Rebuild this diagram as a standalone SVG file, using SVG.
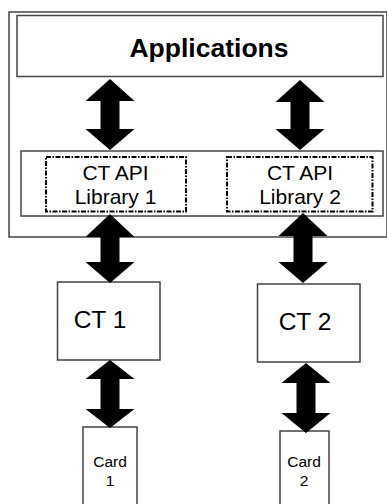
<svg xmlns="http://www.w3.org/2000/svg" width="387" height="504" viewBox="0 0 387 504">
<style>
.box{fill:#fff;stroke:#444;stroke-width:1.5}
.dash{fill:none;stroke:#000;stroke-width:2;stroke-dasharray:5 1.5 1.5 1.5}
.t{font-family:"Liberation Sans",Arial,sans-serif;fill:#000;text-anchor:middle}
.arr{fill:#000}
</style>
<rect x="0" y="0" width="387" height="504" fill="#fff"/>
<g id="frame"><rect class="box" x="9" y="12" width="378" height="225"/></g>
<g id="applications">
<rect class="box" x="17" y="15.5" width="366" height="61"/>
<text class="t" x="209" y="57" font-size="26.5" font-weight="bold">Applications</text>
</g>
<g id="library-container"><rect class="box" x="21" y="151" width="362" height="65"/></g>
<g id="library1">
<rect class="dash" x="46" y="157" width="140" height="54.5"/>
<text class="t" x="115.5" y="180" font-size="21">CT API</text>
<text class="t" x="115.5" y="203.5" font-size="21">Library 1</text>
</g>
<g id="library2">
<rect class="dash" x="227" y="157" width="145.5" height="54.5"/>
<text class="t" x="300" y="180" font-size="21">CT API</text>
<text class="t" x="300" y="203.5" font-size="21">Library 2</text>
</g>
<g id="ct1">
<rect class="box" x="57.5" y="282" width="102.5" height="78"/>
<text class="t" x="100" y="327.5" font-size="24.5">CT 1</text>
</g>
<g id="ct2">
<rect class="box" x="257.5" y="284" width="102.5" height="78"/>
<text class="t" x="305" y="330" font-size="24.5">CT 2</text>
</g>
<g id="card1">
<rect class="box" x="83" y="427" width="54" height="90"/>
<text class="t" x="110" y="466.5" font-size="15.5">Card</text>
<text class="t" x="110" y="486" font-size="15.5">1</text>
</g>
<g id="card2">
<rect class="box" x="280" y="431" width="49" height="90"/>
<text class="t" x="304" y="466.5" font-size="15.5">Card</text>
<text class="t" x="304" y="486" font-size="15.5">2</text>
</g>
<g id="connectors" class="arr">
<polygon points="110,79 134.5,101 119.5,101 119.5,129 134.5,129 110,150 85.5,129 100.5,129 100.5,101 85.5,101"/>
<polygon points="300,80 324.5,102 309.5,102 309.5,129 324.5,129 300,150 275.5,129 290.5,129 290.5,102 275.5,102"/>
<polygon points="110,214 134.5,237 119.5,237 119.5,262 134.5,262 110,283 85.5,262 100.5,262 100.5,237 85.5,237"/>
<polygon points="303,213 327.5,236 312.5,236 312.5,262 327.5,262 303,283 278.5,262 293.5,262 293.5,236 278.5,236"/>
<polygon points="110,360 134.5,379 119.5,379 119.5,409 134.5,409 110,428 85.5,409 100.5,409 100.5,379 85.5,379"/>
<polygon points="306,363 330.5,383 315.5,383 315.5,413 330.5,413 306,433 281.5,413 296.5,413 296.5,383 281.5,383"/>
</g>
</svg>
